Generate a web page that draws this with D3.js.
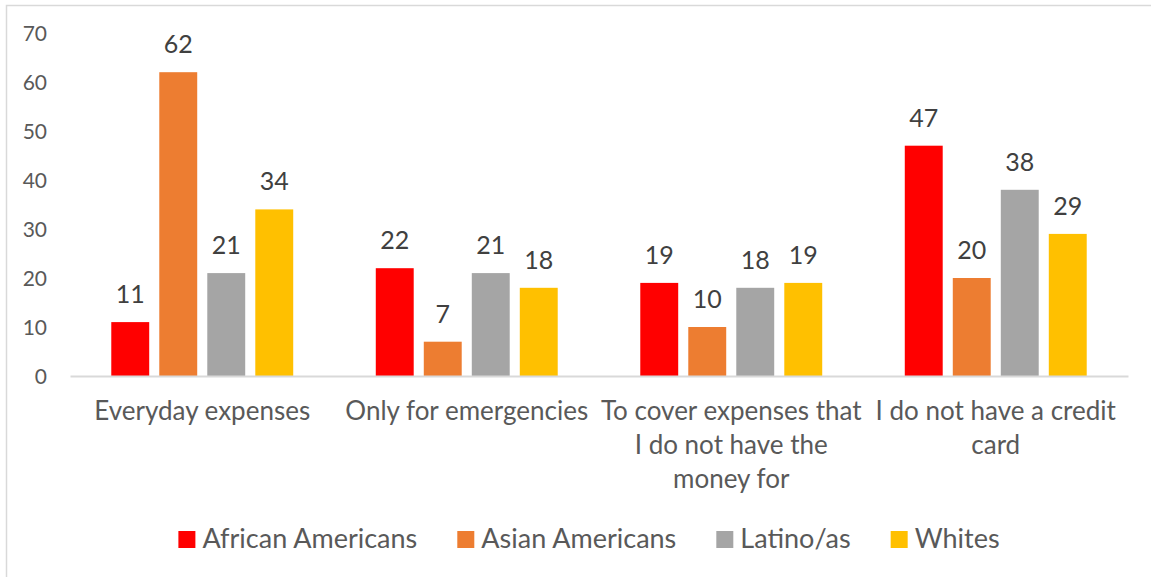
<!DOCTYPE html>
<html>
<head>
<meta charset="utf-8">
<script src="https://cdn.jsdelivr.net/npm/d3@7"></script>
<style>
  html, body { margin: 0; padding: 0; background: #fff; }
  svg { display: block; }
  text { font-family: Lato, "Open Sans", sans-serif; }
</style>
</head>
<body>
<svg id="chart" width="1151" height="577"></svg>
<script>
// ---- data ----
const categories = [
  ["Everyday expenses"],
  ["Only for emergencies"],
  ["To cover expenses that", "I do not have the", "money for"],
  ["I do not have a credit", "card"]
];
const seriesNames = ["African Americans", "Asian Americans", "Latino/as", "Whites"];
const seriesColors = ["#FF0000", "#ED7D31", "#A5A5A5", "#FFC000"];
const africanAmericans = [11, 22, 19, 47];
const asianAmericans   = [62, 7, 10, 20];
const latinos          = [21, 21, 18, 38];
const whites           = [34, 18, 19, 29];
const yTicks = [0, 10, 20, 30, 40, 50, 60, 70];

const seriesValues = [africanAmericans, asianAmericans, latinos, whites];

// ---- layout ----
const svg = d3.select("#chart");
const W = 1151, H = 577;
const plot = { left: 70, right: 1128, top: 33, bottom: 376 };

// frame (cropped border)
svg.append("path")
  .attr("d", `M6.5,${H} L6.5,5.5 L${W},5.5`)
  .attr("fill", "none")
  .attr("stroke", "#d9d9d9")
  .attr("stroke-width", 1.5);

const catIdx = categories.map((d, i) => i);
const x0 = d3.scaleBand().domain(catIdx).range([plot.left, plot.right]).paddingInner(0).paddingOuter(0);
const x1 = d3.scaleBand().domain(d3.range(seriesNames.length)).range([0, x0.bandwidth()])
  .paddingInner(0.21).paddingOuter(0.86);
const y = d3.scaleLinear().domain([0, 70]).range([plot.bottom, plot.top]);

// y tick labels (no axis line, no gridlines)
const yAxis = d3.axisLeft(y).tickValues(yTicks).tickSize(0).tickPadding(0);
const gy = svg.append("g").attr("transform", `translate(47,0)`).call(yAxis);
gy.select(".domain").remove();
gy.selectAll("text")
  .attr("fill", "#595959")
  .style("font-size", "21px")
  .style("font-family", "Lato, sans-serif")
  .attr("dy", "0.36em");

// bars
const groups = svg.append("g").selectAll("g")
  .data(catIdx)
  .join("g")
  .attr("transform", i => `translate(${x0(i)},0)`);

groups.selectAll("rect")
  .data(ci => seriesValues.map((vals, si) => ({ si, v: vals[ci] })))
  .join("rect")
  .attr("x", d => x1(d.si))
  .attr("y", d => y(d.v))
  .attr("width", x1.bandwidth())
  .attr("height", d => y(0) - y(d.v))
  .attr("fill", d => seriesColors[d.si]);

groups.selectAll("text.val")
  .data(ci => seriesValues.map((vals, si) => ({ si, v: vals[ci] })))
  .join("text")
  .attr("class", "val")
  .attr("x", d => x1(d.si) + x1.bandwidth() / 2)
  .attr("y", d => y(d.v) - 19)
  .attr("text-anchor", "middle")
  .attr("fill", "#404040")
  .style("font-size", "25px")
  .text(d => d.v);

// x axis line
const xAxis = d3.axisBottom(x0).tickSize(0).tickFormat("");
const gx = svg.append("g").attr("transform", `translate(0,${plot.bottom})`).call(xAxis);
gx.select(".domain").attr("stroke", "#d9d9d9").attr("stroke-width", 2);

// category labels
categories.forEach((lines, i) => {
  const t = svg.append("text")
    .attr("text-anchor", "middle")
    .attr("fill", "#595959")
    .style("font-size", "26px");
  lines.forEach((ln, j) => {
    t.append("tspan")
      .attr("x", x0(i) + x0.bandwidth() / 2)
      .attr("y", 420 + j * 34)
      .text(ln);
  });
});

// legend
const legend = svg.append("g");
const items = legend.selectAll("g").data(seriesNames).join("g");
items.append("rect").attr("width", 17).attr("height", 17).attr("y", 531)
  .attr("fill", (d, i) => seriesColors[i]);
items.append("text").attr("x", 24).attr("y", 548)
  .attr("fill", "#595959").style("font-size", "27px").text(d => d);
let cx = 0;
const offs = [];
items.each(function() {
  const w = d3.select(this).select("text").node().getComputedTextLength();
  offs.push(cx);
  cx += 24 + w + 40;
});
const total = cx - 40;
const start = 589 - total / 2;
items.attr("transform", (d, i) => `translate(${start + offs[i]},0)`);
</script>
</body>
</html>
